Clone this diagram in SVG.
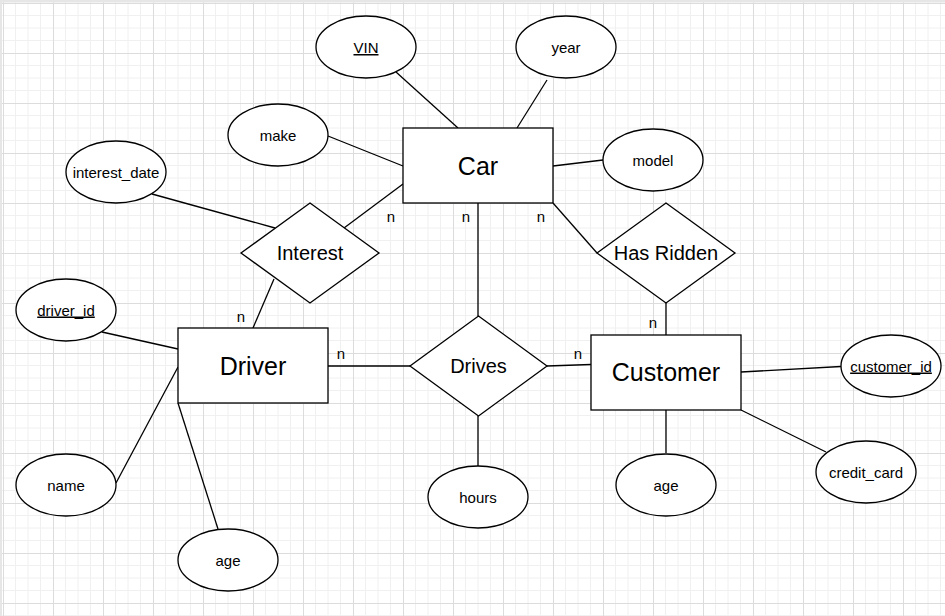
<svg xmlns="http://www.w3.org/2000/svg" width="945" height="616" viewBox="0 0 945 616">
  <defs>
    <pattern id="grid" x="3" y="3" width="50" height="50" patternUnits="userSpaceOnUse">
      <path d="M12.5 0V50M25 0V50M37.5 0V50M0 12.5H50M0 25H50M0 37.5H50" stroke="#f0f0f0" stroke-width="1" fill="none"/>
      <path d="M0.5 0V50M0 0.5H50" stroke="#dcdcdc" stroke-width="1" fill="none"/>
    </pattern>
    <style>
      .shape { fill: #ffffff; stroke: #000000; stroke-width: 1.3; }
      .conn { stroke: #000000; stroke-width: 1.3; fill: none; }
      text { font-family: "Liberation Sans", Arial, sans-serif; fill: #000000; text-anchor: middle; }
      .ent { font-size: 25px; }
      .rel { font-size: 20px; }
      .attr { font-size: 15px; }
      .key { text-decoration: underline; }
      .card { font-size: 15px; }
    </style>
  </defs>

  <rect x="0" y="0" width="945" height="616" fill="#ffffff"/>
  <rect x="0" y="0" width="945" height="616" fill="url(#grid)"/>
  <rect x="0" y="0" width="2" height="616" fill="#e6e6e6"/>
  <rect x="0" y="0" width="945" height="2.5" fill="#e6e6e6"/>

  <g id="connectors">
    <line class="conn" x1="396" y1="72" x2="458" y2="128"/>
    <line class="conn" x1="547" y1="80" x2="517" y2="128"/>
    <line class="conn" x1="328" y1="136" x2="403" y2="166"/>
    <line class="conn" x1="553" y1="166" x2="603" y2="160"/>
    <line class="conn" x1="152" y1="194" x2="275" y2="228"/>
    <line class="conn" x1="403" y1="184" x2="344" y2="228"/>
    <line class="conn" x1="274" y1="279" x2="253" y2="328"/>
    <line class="conn" x1="478" y1="203" x2="478" y2="316"/>
    <line class="conn" x1="553" y1="203" x2="597" y2="253"/>
    <line class="conn" x1="666" y1="303" x2="666" y2="335"/>
    <line class="conn" x1="328" y1="366" x2="410" y2="366"/>
    <line class="conn" x1="547" y1="366" x2="591" y2="364.5"/>
    <line class="conn" x1="478" y1="416" x2="478" y2="466"/>
    <line class="conn" x1="102" y1="332" x2="178" y2="349"/>
    <line class="conn" x1="116" y1="483" x2="178" y2="367"/>
    <line class="conn" x1="178" y1="403" x2="218" y2="529"/>
    <line class="conn" x1="741" y1="372" x2="841" y2="366.5"/>
    <line class="conn" x1="741" y1="410" x2="826" y2="452"/>
    <line class="conn" x1="666" y1="410" x2="666" y2="453"/>
    <text class="card" x="391" y="222">n</text>
    <text class="card" x="466" y="222">n</text>
    <text class="card" x="541" y="222">n</text>
    <text class="card" x="241" y="322">n</text>
    <text class="card" x="341" y="359">n</text>
    <text class="card" x="578" y="359">n</text>
    <text class="card" x="653" y="328">n</text>
  </g>

  <g id="car">
    <rect class="shape" x="403" y="128" width="150" height="75"/>
    <text class="ent" x="478" y="175">Car</text>
  </g>
  <g id="driver">
    <rect class="shape" x="178" y="328" width="150" height="75"/>
    <text class="ent" x="253" y="375">Driver</text>
  </g>
  <g id="customer">
    <rect class="shape" x="591" y="335" width="150" height="75"/>
    <text class="ent" x="666" y="381">Customer</text>
  </g>

  <g id="interest">
    <polygon class="shape" points="310,203 379,253 310,303 241,253"/>
    <text class="rel" x="310" y="260">Interest</text>
  </g>
  <g id="has-ridden">
    <polygon class="shape" points="666,203 735,253 666,303 597,253"/>
    <text class="rel" x="666" y="260">Has Ridden</text>
  </g>
  <g id="drives">
    <polygon class="shape" points="478.5,316 547,366 478.5,416 410,366"/>
    <text class="rel" x="478.5" y="373">Drives</text>
  </g>

  <g id="vin">
    <ellipse class="shape" cx="366" cy="47" rx="50" ry="31"/>
    <text class="attr key" x="366" y="53">VIN</text>
  </g>
  <g id="year">
    <ellipse class="shape" cx="566" cy="47" rx="50" ry="31"/>
    <text class="attr" x="566" y="53">year</text>
  </g>
  <g id="make">
    <ellipse class="shape" cx="278" cy="135" rx="50" ry="31"/>
    <text class="attr" x="278" y="140.5">make</text>
  </g>
  <g id="model">
    <ellipse class="shape" cx="653" cy="160" rx="50" ry="31"/>
    <text class="attr" x="653" y="165.5">model</text>
  </g>
  <g id="interest-date">
    <ellipse class="shape" cx="116" cy="172" rx="50" ry="31"/>
    <text class="attr" x="116" y="177.5">interest_date</text>
  </g>
  <g id="driver-id">
    <ellipse class="shape" cx="66" cy="310" rx="50" ry="31"/>
    <text class="attr key" x="66" y="315.5">driver_id</text>
  </g>
  <g id="name">
    <ellipse class="shape" cx="66" cy="485" rx="50" ry="31"/>
    <text class="attr" x="66" y="490.5">name</text>
  </g>
  <g id="driver-age">
    <ellipse class="shape" cx="228" cy="560" rx="50" ry="31"/>
    <text class="attr" x="228" y="565.5">age</text>
  </g>
  <g id="hours">
    <ellipse class="shape" cx="478" cy="497" rx="50" ry="31"/>
    <text class="attr" x="478" y="502.5">hours</text>
  </g>
  <g id="customer-age">
    <ellipse class="shape" cx="666" cy="485" rx="50" ry="31"/>
    <text class="attr" x="666" y="490.5">age</text>
  </g>
  <g id="customer-id">
    <ellipse class="shape" cx="891" cy="366" rx="50" ry="31"/>
    <text class="attr key" x="891" y="371.5">customer_id</text>
  </g>
  <g id="credit-card">
    <ellipse class="shape" cx="866" cy="472" rx="50" ry="31"/>
    <text class="attr" x="866" y="477.5">credit_card</text>
  </g>
</svg>
